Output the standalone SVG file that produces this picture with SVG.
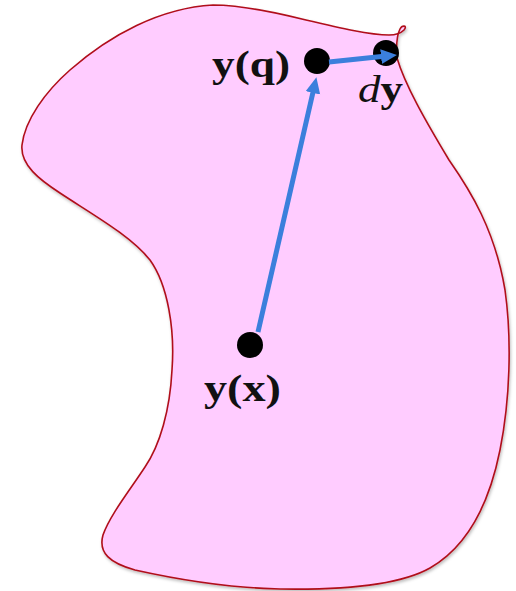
<svg xmlns="http://www.w3.org/2000/svg" width="516" height="591" viewBox="0 0 516 591">
  <defs>
    <filter id="sh" x="-10%" y="-10%" width="120%" height="120%">
      <feDropShadow dx="1" dy="2" stdDeviation="1.5" flood-color="#000" flood-opacity="0.25"/>
    </filter>
    <marker id="ah" markerUnits="userSpaceOnUse" markerWidth="18" markerHeight="16" refX="3" refY="7.5" orient="auto">
      <path d="M0,0 L16,7.5 L0,15 z" fill="#3b7fdc"/>
    </marker>
    <style>
      .region { fill: #ffccff; stroke: #b0101a; stroke-width: 1.6; }
      .pt { fill: #000; }
      .conn { stroke: #3b7fdc; stroke-width: 5; fill: none; marker-end: url(#ah); }
      .lbl { font-family: "Liberation Serif", "DejaVu Serif", serif; font-size: 38px; fill: #111; }
      .b { font-weight: bold; }
      .i { font-style: italic; }
    </style>
  </defs>
  <g id="region">
    <path class="region" filter="url(#sh)" d="M 213,5 C 160,8 110,35 70,70 C 45,92 25,120 22,145 C 20,165 40,180 60,193 C 90,213 130,235 150,260 C 168,285 175,330 172,370 C 170,410 160,445 145,467 C 130,490 110,515 103,535 C 98,553 110,563 135,570 C 180,580 230,588 280,589 C 340,590 400,585 430,568 C 470,545 490,500 500,450 C 510,400 512,340 505,290 C 495,230 470,190 449,160 C 425,120 405,85 397,58 C 396,45 397,35 400,29 C 402,25 408,25 404,30 C 400,34 396,35 389,35 C 370,35 340,28 306,20 C 270,11 240,5 213,5 Z"/>
  </g>
  <g id="node-yx">
    <circle class="pt" cx="250" cy="345" r="13"/>
    <text class="lbl b" x="204" y="401" textLength="77" lengthAdjust="spacingAndGlyphs">y(x)</text>
  </g>
  <g id="node-yq">
    <circle class="pt" cx="317" cy="61" r="13"/>
    <text class="lbl b" x="212" y="77" textLength="78" lengthAdjust="spacingAndGlyphs">y(q)</text>
  </g>
  <g id="node-dy">
    <circle class="pt" cx="386" cy="53" r="13"/>
    <text class="lbl" x="358" y="102" textLength="45" lengthAdjust="spacingAndGlyphs"><tspan class="i">d</tspan><tspan class="b">y</tspan></text>
  </g>
  <g id="connectors">
    <line class="conn" x1="258" y1="332" x2="313.5" y2="90"/>
    <line class="conn" x1="329" y1="62" x2="384" y2="56.3"/>
  </g>
</svg>
